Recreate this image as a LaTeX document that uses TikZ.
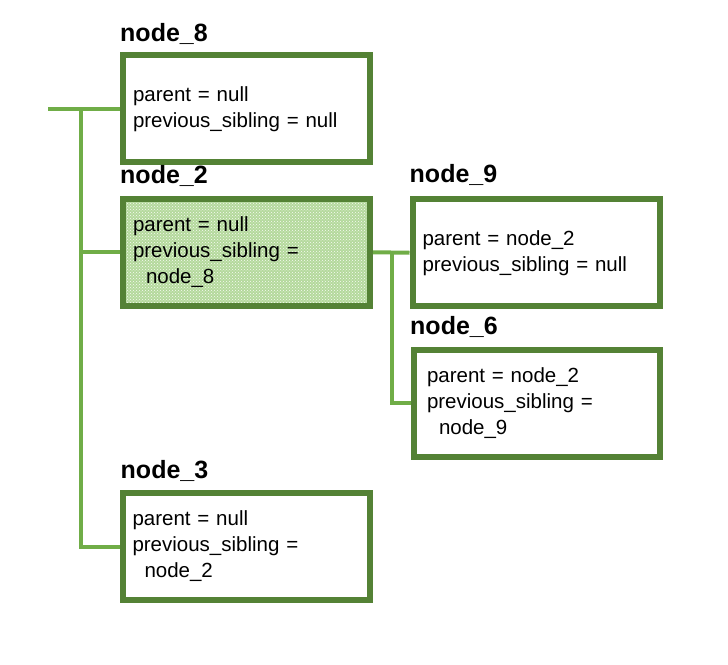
\documentclass[tikz,border=0pt]{standalone}
\usepackage{fontspec}
\setmainfont{Liberation Sans}
\usetikzlibrary{patterns}
\definecolor{boxgreen}{RGB}{84,130,53}
\definecolor{linkgreen}{RGB}{112,173,71}
\definecolor{fillgreen}{RGB}{180,217,156}
\tikzset{
  box/.style={draw=boxgreen,line width=6pt,minimum width=247pt,minimum height=107pt,
    inner xsep=10pt,text width=227pt,align=left,
    font=\fontsize{20.5}{26}\selectfont},
  title/.style={inner sep=0pt,anchor=base west,font=\fontsize{25}{29}\selectfont\bfseries},
  link/.style={draw=linkgreen,line width=4pt},
}
\begin{document}
\begin{tikzpicture}[x=1pt,y=-1pt]
\useasboundingbox (0,0) rectangle (728,664);
% Boxes, one for each node of the tree
\node[box] (node8) at (246.5,108.75) {parent = null\\previous\_sibling = null};
\node[box,preaction={fill=fillgreen},pattern=crosshatch dots,pattern color=white!90!fillgreen]
  (node2) at (246.5,252.25) {parent = null\\previous\_sibling =\\\hspace{13pt}node\_8};
\node[box] (node9) at (536,252.75) {parent = node\_2\\previous\_sibling = null};
\node[box,minimum width=246pt,inner xsep=13pt,text width=220pt]
  (node6) at (537,403) {parent = node\_2\\previous\_sibling =\\\hspace{12pt}node\_9};
\node[box] (node3) at (246,546.5) {parent = null\\previous\_sibling =\\\hspace{12pt}node\_2};
% Titles above the boxes
\node[title] (t8) at ([yshift=11pt]node8.north west) {node\_8};
\node[title] (t2) at ([yshift=12pt]node2.north west) {node\_2};
\node[title] (t9) at ([yshift=13.5pt]node9.north west) {node\_9};
\node[title] (t6) at ([xshift=-1pt,yshift=12pt]node6.north west) {node\_6};
\node[title] (t3) at ([xshift=1pt,yshift=12pt]node3.north west) {node\_3};
% Free end of the root and the two forks
\coordinate (root) at (48,108.75);
\coordinate (trunk) at (81,108.75);
\coordinate (fork) at (392,252.25);
% Connectors
\draw[link] (root) -- (node8.west);
\draw[link] (trunk) |- (node2.west);
\draw[link] (trunk) |- (node3.west);
\draw[link] (node2.east) -- (node9.west);
\draw[link] (fork) |- (node6.west);
\end{tikzpicture}
\end{document}
